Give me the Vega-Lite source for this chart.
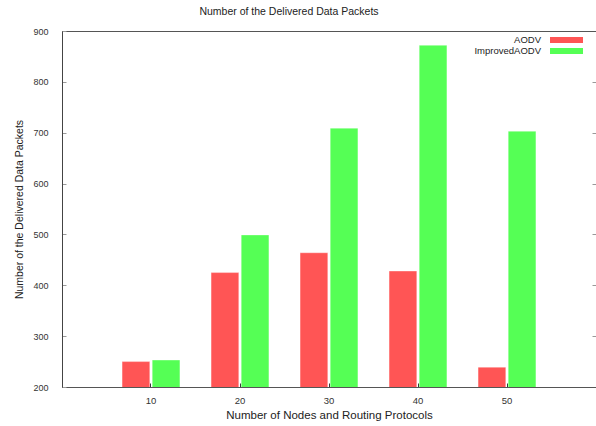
{
  "$schema": "https://vega.github.io/schema/vega-lite/v6.json",
  "autosize": {"type": "none"},
  "padding": {"left": 62, "top": 31, "right": 0, "bottom": 39},
  "width": 534,
  "height": 356,
  "background": "white",
  "title": {
    "text": "Number of the Delivered Data Packets",
    "font": "Liberation Sans",
    "fontSize": 10.5,
    "fontWeight": "normal",
    "color": "#222",
    "anchor": "middle",
    "dx": -40,
    "offset": 10
  },
  "config": {
    "view": {"stroke": "#555", "strokeWidth": 1},
    "font": "Liberation Sans"
  },
  "data": {
    "values": [
      {"nodes": "10", "protocol": "AODV", "packets": 250},
      {"nodes": "10", "protocol": "ImprovedAODV", "packets": 253},
      {"nodes": "20", "protocol": "AODV", "packets": 425},
      {"nodes": "20", "protocol": "ImprovedAODV", "packets": 499},
      {"nodes": "30", "protocol": "AODV", "packets": 464},
      {"nodes": "30", "protocol": "ImprovedAODV", "packets": 709},
      {"nodes": "40", "protocol": "AODV", "packets": 428},
      {"nodes": "40", "protocol": "ImprovedAODV", "packets": 872},
      {"nodes": "50", "protocol": "AODV", "packets": 239},
      {"nodes": "50", "protocol": "ImprovedAODV", "packets": 703}
    ]
  },
  "encoding": {
    "x": {
      "field": "nodes",
      "type": "ordinal",
      "scale": {"paddingInner": 0.35, "paddingOuter": 0.675},
      "axis": {
        "title": "Number of Nodes and Routing Protocols",
        "titleFont": "Liberation Sans",
        "titleFontSize": 11.5,
        "titleFontWeight": "normal",
        "titleColor": "#222",
        "titlePadding": 5,
        "labelAngle": 0,
        "labelFontSize": 9.5,
        "labelColor": "#333",
        "labelPadding": 12,
        "tickSize": -4,
        "tickColor": "#222",
        "domainColor": "#555"
      }
    },
    "xOffset": {
      "field": "protocol",
      "type": "nominal",
      "scale": {"paddingInner": 0.08}
    }
  },
  "layer": [
    {
      "mark": {"type": "bar", "clip": true, "stroke": "white", "strokeWidth": 0.6, "strokeOpacity": 0.6},
      "encoding": {
        "y": {
          "field": "packets",
          "type": "quantitative",
          "scale": {"domain": [200, 900], "nice": false, "zero": false},
          "axis": {
            "title": "Number of the Delivered Data Packets",
            "titleFont": "Liberation Sans",
            "titleFontSize": 10.5,
            "titleFontWeight": "normal",
            "titleColor": "#222",
            "titlePadding": 8,
            "values": [200, 300, 400, 500, 600, 700, 800, 900],
            "labelFontSize": 9,
            "labelColor": "#333",
            "labelPadding": 18,
            "tickSize": -4,
            "tickColor": "#999",
            "grid": false,
            "domainColor": "#444"
          }
        },
        "color": {
          "field": "protocol",
          "type": "nominal",
          "scale": {"domain": ["AODV", "ImprovedAODV"], "range": ["#ff5555", "#55ff55"]},
          "legend": {
            "title": null,
            "orient": "none",
            "legendX": 499,
            "legendY": 3.5,
            "symbolType": "M-3,-0.55H3V0.55H-3Z",
            "symbolSize": 121,
            "symbolStrokeWidth": 0,
            "symbolOpacity": 1,
            "labelAlign": "right",
            "labelOffset": -31,
            "labelFontSize": 9.5,
            "labelColor": "#222",
            "rowPadding": 1,
            "symbolOffset": 0
          }
        }
      }
    },
    {
      "mark": {"type": "bar", "opacity": 0, "clip": true},
      "encoding": {
        "y": {
          "field": "packets",
          "type": "quantitative",
          "axis": {
            "orient": "right",
            "title": null,
            "labels": false,
            "domain": false,
            "values": [300, 400, 500, 600, 700, 800],
            "tickSize": -4,
            "tickColor": "#999",
            "grid": false
          }
        }
      }
    }
  ],
  "resolve": {"axis": {"y": "independent"}}
}
